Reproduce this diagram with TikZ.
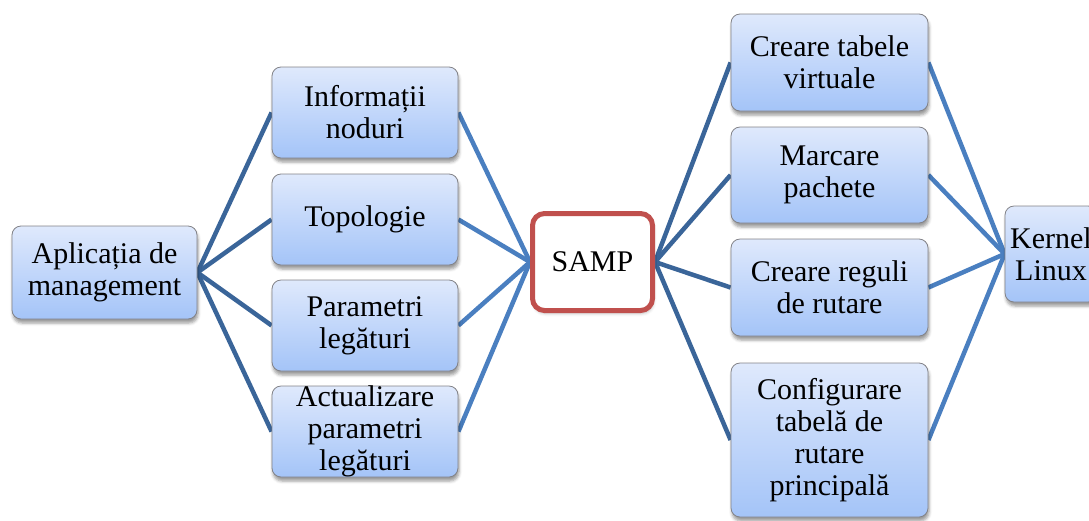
\documentclass[tikz,border=0pt]{standalone}
\usepackage{fontspec}
\setmainfont{Liberation Serif}
\usetikzlibrary{shadows.blur,backgrounds}

\definecolor{boxtop}{RGB}{223,233,252}
\definecolor{boxbot}{RGB}{164,196,248}
\definecolor{boxedge}{RGB}{130,130,135}
\definecolor{linkdark}{RGB}{58,101,153}
\definecolor{linklight}{RGB}{74,127,192}
\definecolor{sampred}{RGB}{192,80,77}

\tikzset{
  label font/.style={font=\fontsize{30}{32}\selectfont, align=center},
  box/.style={rectangle, rounded corners=9pt, draw=boxedge, line width=0.8pt,
    top color=boxtop, bottom color=boxbot, inner sep=0pt, label font,
    blur shadow={shadow xshift=1pt, shadow yshift=-4pt,
      shadow blur radius=3pt, shadow opacity=40}},
  core/.style={rectangle, rounded corners=12pt, draw=sampred, line width=5pt,
    fill=white, inner sep=0pt, label font,
    blur shadow={shadow xshift=1pt, shadow yshift=-3pt,
      shadow blur radius=3pt, shadow opacity=25}},
  plain text/.style={inner sep=0pt, label font},
  outlink/.style={draw=linkdark, line width=4.5pt},
  inlink/.style={draw=linklight, line width=4.5pt},
}

\begin{document}
\begin{tikzpicture}[x=1pt, y=-1pt]
  \useasboundingbox (0,0) rectangle (1089,520);
  \clip (0,0) rectangle (1089,520);

  % management application
  \node[box, minimum width=185pt, minimum height=93pt] (app) at (104.5,272.5)
    {Aplicația de\\management};

  % management functions
  \node[box, minimum width=186pt, minimum height=91pt] (inf) at (365,112.5)
    {Informații\\noduri};
  \node[box, minimum width=186pt, minimum height=91pt] (top) at (365,219.5)
    {Topologie};
  \node[box, minimum width=186pt, minimum height=91pt] (par) at (365,325.5)
    {Parametri\\legături};
  \node[box, minimum width=186pt, minimum height=91pt] (act) at (365,431.5) {};
  \node[plain text] (acttext) at (act.center)
    {Actualizare\\parametri\\legături};

  % central module
  \node[core, minimum width=120pt, minimum height=97pt] (samp) at (592.5,262)
    {SAMP};

  % kernel operations
  \node[box, minimum width=197pt, minimum height=97pt] (ctv) at (829.5,62.5)
    {Creare tabele\\virtuale};
  \node[box, minimum width=197pt, minimum height=96pt] (mp) at (829.5,175)
    {Marcare\\pachete};
  \node[box, minimum width=197pt, minimum height=97pt] (crr) at (829.5,287.5)
    {Creare reguli\\de rutare};
  \node[box, minimum width=197pt, minimum height=154pt] (ctr) at (829.5,440)
    {Configurare\\tabelă de\\rutare\\principală};

  % kernel
  \node[box, minimum width=92pt, minimum height=96pt] (ker) at (1051,254)
    {Kernel\\Linux};

  \begin{scope}[on background layer]
    \foreach \n in {inf,top,par,act} {
      \draw[outlink] (app.east) -- (\n.west);
      \draw[inlink] (\n.east) -- (samp.west);
    }
    \foreach \n in {ctv,mp,crr,ctr} {
      \draw[outlink] (samp.east) -- (\n.west);
      \draw[inlink] (\n.east) -- (ker.west);
    }
  \end{scope}
\end{tikzpicture}
\end{document}
